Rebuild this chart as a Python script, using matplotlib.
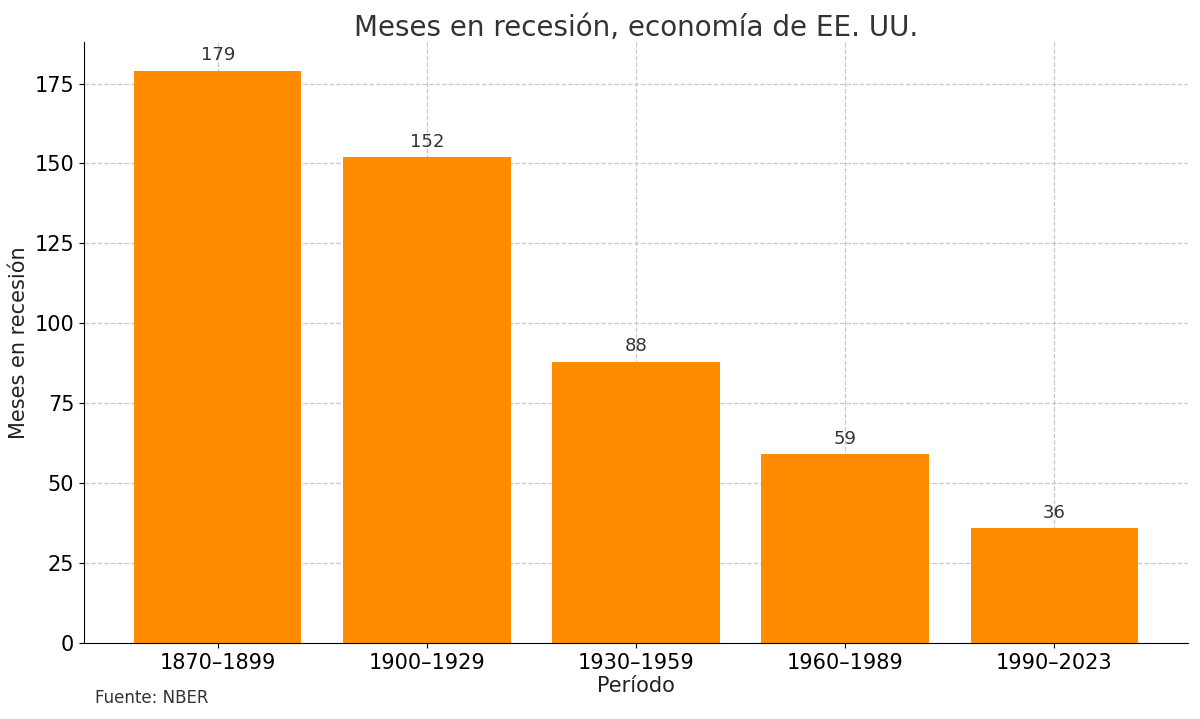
import matplotlib
matplotlib.use("Agg")
import matplotlib.pyplot as plt

periods = ["1870–1899", "1900–1929", "1930–1959", "1960–1989", "1990–2023"]
months = [179, 152, 88, 59, 36]

fig = plt.figure(figsize=(12, 7.19), dpi=100)
ax = fig.add_axes([84/1200, 1-643/719, 1104/1200, 601/719])
x = range(len(periods))
ax.bar(x, months, width=0.8, color="#FF8C00", zorder=2)
for xi, v in zip(x, months):
    ax.text(xi, v + 2, str(v), ha="center", va="bottom", fontsize=13, color="#333333")
ax.set_xticks(list(x))
ax.set_xticklabels(periods, fontsize=15)
ax.tick_params(axis="y", labelsize=15)
ax.set_xlim(-0.64, 4.64)
ax.set_ylim(0, 188)
ax.set_yticks([0, 25, 50, 75, 100, 125, 150, 175])
ax.grid(True, linestyle="--", color="#c8c8c8", linewidth=0.9, zorder=0)
ax.set_axisbelow(True)
for s in ["top", "right"]:
    ax.spines[s].set_visible(False)
ax.set_title("Meses en recesión, economía de EE. UU.", fontsize=20, color="#333333", pad=4)
ax.set_xlabel("Período", fontsize=15, color="#222222", labelpad=2)
ax.set_ylabel("Meses en recesión", fontsize=15, color="#222222")
fig.text(95/1200, 1-698/719, "Fuente: NBER", fontsize=12, color="#333333", va="center")
fig.savefig("out.png", dpi=100)
